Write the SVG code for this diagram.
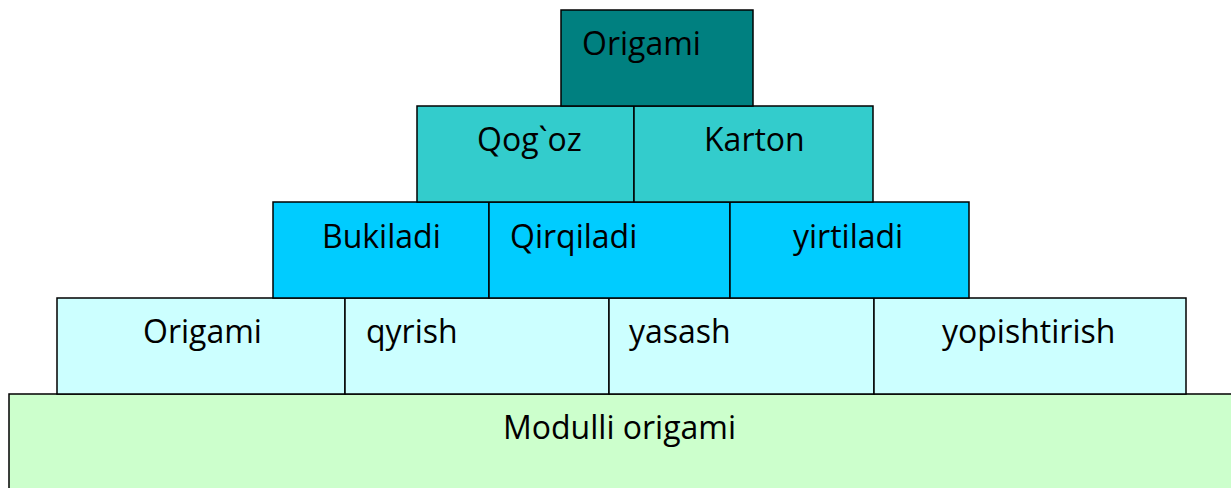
<svg xmlns="http://www.w3.org/2000/svg" width="1231" height="488" viewBox="0 0 1231 488">
<style>
rect{stroke:#000;stroke-width:1.5}
text{font-family:"Open Sans","Liberation Sans",sans-serif;font-size:32px;fill:#000}
.r1{fill:#008080}.r2{fill:#33CCCC}.r3{fill:#00CCFF}.r4{fill:#CCFFFF}.r5{fill:#CCFFCC}
</style>
<rect width="1231" height="488" fill="#fff" style="stroke:none"/>
<g id="n-modulli"><rect class="r5" x="9" y="394" width="1230" height="100"/><text x="503" y="439">Modulli origami</text></g>
<g id="n-origami2"><rect class="r4" x="57" y="298" width="288" height="96"/><text x="143" y="343">Origami</text></g>
<g id="n-qyrish"><rect class="r4" x="345" y="298" width="264" height="96"/><text x="366" y="343">qyrish</text></g>
<g id="n-yasash"><rect class="r4" x="609" y="298" width="265" height="96"/><text x="629" y="343">yasash</text></g>
<g id="n-yopishtirish"><rect class="r4" x="874" y="298" width="312" height="96"/><text x="942" y="343">yopishtirish</text></g>
<g id="n-bukiladi"><rect class="r3" x="273" y="202" width="216" height="96"/><text x="322" y="248">Bukiladi</text></g>
<g id="n-qirqiladi"><rect class="r3" x="489" y="202" width="241" height="96"/><text x="510" y="248">Qirqiladi</text></g>
<g id="n-yirtiladi"><rect class="r3" x="730" y="202" width="239" height="96"/><text x="793" y="248">yirtiladi</text></g>
<g id="n-qogoz"><rect class="r2" x="417" y="106" width="217" height="96"/><text x="477" y="151">Qog`oz</text></g>
<g id="n-karton"><rect class="r2" x="634" y="106" width="239" height="96"/><text x="704" y="151">Karton</text></g>
<g id="n-origami"><rect class="r1" x="561" y="10" width="192" height="96"/><text x="582" y="55">Origami</text></g>
<g id="connectors"/>
</svg>
